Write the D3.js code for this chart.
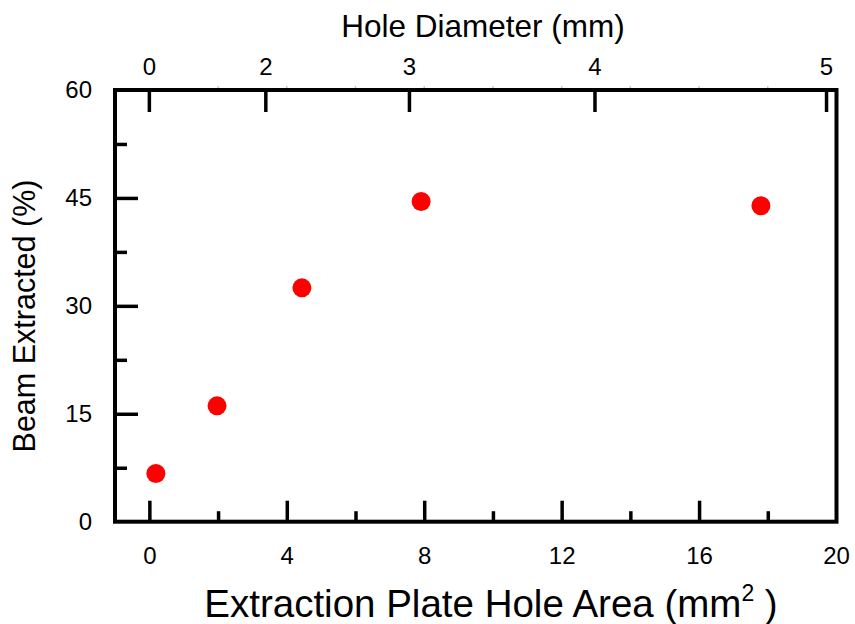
<!DOCTYPE html>
<html>
<head>
<meta charset="utf-8">
<script src="https://cdn.jsdelivr.net/npm/d3@7"></script>
<style>
  body { margin: 0; background: #fff; }
  svg { display: block; }
  text { font-family: "Liberation Sans", Arial, sans-serif; fill: #000; }
</style>
</head>
<body>
<div id="chart"></div>
<script>
// data
const holeArea = [0.19, 1.97, 4.44, 7.91, 17.8];       // mm^2
const beamExtracted = [6.7, 16.1, 32.5, 44.5, 43.9];   // %

// axis ticks
const areaMajor = [0, 4, 8, 12, 16, 20];
const areaMinor = [2, 6, 10, 14, 18];
const beamMajor = [0, 15, 30, 45, 60];
const beamMinor = [7.5, 22.5, 37.5, 52.5];
const diameterLabels = [0, 2, 3, 4, 5];
const diameterAtArea = [0, 3.39, 7.57, 12.97, 19.71]; // where each diameter tick sits on the area axis

const width = 855;
const height = 624;
const plotLeft = 115, plotRight = 836.5, plotTop = 90, plotBottom = 521.7;

const svg = d3.select("#chart")
  .append("svg")
  .attr("width", width)
  .attr("height", height);

const x = d3.scaleLinear().domain([-1, 20]).range([plotLeft, plotRight]);
const y = d3.scaleLinear().domain([0, 60]).range([plotBottom, plotTop]);

function styleAxis(g) {
  g.select(".domain").remove();
  g.selectAll(".tick line").attr("stroke", "#000").attr("stroke-width", 3.5);
  g.selectAll(".tick text").style("font-size", "24px");
}

// bottom axis
svg.append("g")
  .attr("transform", `translate(0,${plotBottom})`)
  .call(d3.axisBottom(x).tickValues(areaMajor.filter(d => d < 20)).tickSize(-21).tickPadding(25))
  .call(styleAxis);
svg.append("g")
  .attr("transform", `translate(0,${plotBottom})`)
  .call(d3.axisBottom(x).tickValues(areaMinor).tickSize(-10.5).tickFormat(""))
  .call(styleAxis);
// label for 20 sits on the frame
svg.append("text")
  .attr("x", x(20)).attr("y", plotBottom + 25).attr("dy", "0.71em")
  .attr("text-anchor", "middle").style("font-size", "24px")
  .text("20");

// left axis
svg.append("g")
  .attr("transform", `translate(${plotLeft},0)`)
  .call(d3.axisLeft(y).tickValues(beamMajor).tickSize(-23).tickPadding(23))
  .call(styleAxis)
  .call(g => g.selectAll(".tick line").filter(d => d === 0 || d === 60).remove());
svg.append("g")
  .attr("transform", `translate(${plotLeft},0)`)
  .call(d3.axisLeft(y).tickValues(beamMinor).tickSize(-12).tickFormat(""))
  .call(styleAxis);

// top axis (hole diameter)
const topAxis = svg.append("g").attr("transform", `translate(0,${plotTop})`);
topAxis.selectAll("line.major")
  .data(diameterAtArea)
  .join("line")
  .attr("class", "major")
  .attr("x1", d => x(d)).attr("x2", d => x(d))
  .attr("y1", 0).attr("y2", 22)
  .attr("stroke", "#000").attr("stroke-width", 3.5);
topAxis.selectAll("text")
  .data(diameterLabels)
  .join("text")
  .attr("x", (d, i) => x(diameterAtArea[i]))
  .attr("y", -15)
  .attr("text-anchor", "middle")
  .style("font-size", "24px")
  .text(d => d);
// faint marks along the top edge
topAxis.selectAll("line.faint")
  .data(areaMajor.concat(areaMinor).filter(d => d > 0 && d < 20))
  .join("line")
  .attr("class", "faint")
  .attr("x1", d => x(d)).attr("x2", d => x(d))
  .attr("y1", -4).attr("y2", 0)
  .attr("stroke", "#c8c8c8").attr("stroke-width", 1.5);

// frame
svg.append("rect")
  .attr("x", plotLeft).attr("y", plotTop)
  .attr("width", plotRight - plotLeft).attr("height", plotBottom - plotTop)
  .attr("fill", "none")
  .attr("stroke", "#000")
  .attr("stroke-width", 4);

// points
svg.selectAll("circle.pt")
  .data(holeArea.map((a, i) => ({ a, b: beamExtracted[i] })))
  .join("circle")
  .attr("class", "pt")
  .attr("cx", d => x(d.a))
  .attr("cy", d => y(d.b))
  .attr("r", 9.5)
  .attr("fill", "#ff0000");

// titles
svg.append("text")
  .attr("x", 483).attr("y", 37)
  .attr("text-anchor", "middle")
  .style("font-size", "31.5px")
  .text("Hole Diameter (mm)");

const xt = svg.append("text")
  .attr("x", 491).attr("y", 617)
  .attr("text-anchor", "middle")
  .style("font-size", "38.5px");
xt.append("tspan").text("Extraction Plate Hole Area (mm");
xt.append("tspan").attr("dy", -16).style("font-size", "23px").text("2");
xt.append("tspan").attr("dy", 16).text(" )");

svg.append("text")
  .attr("transform", "translate(35,316) rotate(-90)")
  .attr("text-anchor", "middle")
  .style("font-size", "30.5px")
  .text("Beam Extracted (%)");
</script>
</body>
</html>
